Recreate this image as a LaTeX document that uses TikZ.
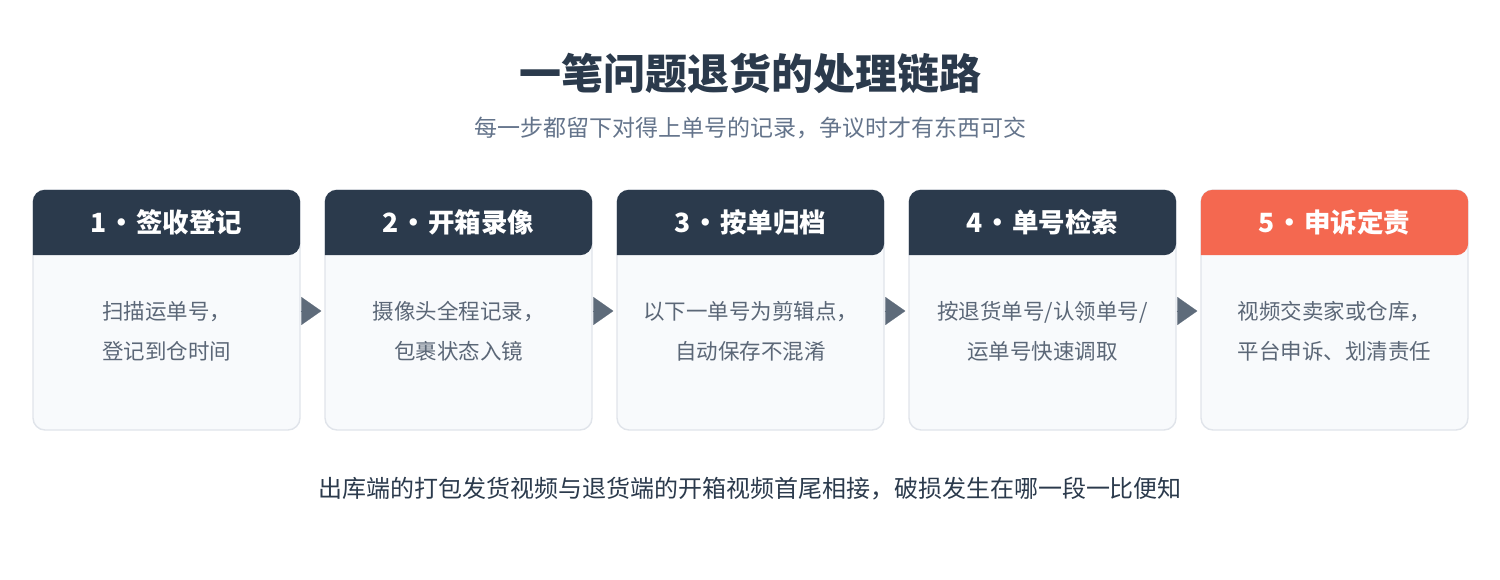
\documentclass[tikz,border=0pt]{standalone}
\usepackage{fontspec}
\setmainfont{Noto Sans CJK SC}
\usepackage{tikz}
\usetikzlibrary{arrows.meta, positioning, calc}
\definecolor{headdark}{HTML}{2B3A4C}
\definecolor{accentred}{HTML}{F46850}
\definecolor{cardfill}{HTML}{F8FAFC}
\definecolor{cardline}{HTML}{E0E4EA}
\definecolor{subgray}{HTML}{64748B}
\definecolor{bodygray}{HTML}{5B6777}
\definecolor{arrowgray}{HTML}{5E6B7A}
\newcommand{\dotsep}{\hspace{0.05em}•\hspace{0.05em}}

\begin{document}
\begin{tikzpicture}[
    x=1pt, y=-1pt,
    card/.style={
        draw=cardline,
        fill=cardfill,
        line width=1.4pt,
        rounded corners=12pt,
        minimum width=267pt,
        minimum height=240pt
    },
    head/.style={
        minimum width=267pt,
        minimum height=65pt,
        text=white,
        font=\fontsize{26.5}{30}\selectfont\bfseries
    },
    bodytext/.style={
        align=center,
        text=bodygray,
        font=\fontsize{21.5}{40}\selectfont
    },
    flow/.style={
        -{Triangle[length=20pt, width=28pt]},
        line width=0.1pt,
        color=arrowgray,
        shorten >=3pt
    }
]
\useasboundingbox (0,0) rectangle (1500,580);

% Title
\node[font=\fontsize{42}{48}\selectfont\bfseries, text=headdark] (title) at (750,73) {一笔问题退货的处理链路};
\node[font=\fontsize{23}{28}\selectfont, text=subgray] (subtitle) at (750,128) {每一步都留下对得上单号的记录，争议时才有东西可交};

% Cards
\node[card] (c1) at (166.5,310) {};
\node[card] (c2) at (458.5,310) {};
\node[card] (c3) at (750.5,310) {};
\node[card] (c4) at (1042.5,310) {};
\node[card] (c5) at (1334.5,310) {};

% Headers
\node[head] (h1) at (166.5,222.5) {};
\node[head] (h2) at (458.5,222.5) {};
\node[head] (h3) at (750.5,222.5) {};
\node[head] (h4) at (1042.5,222.5) {};
\node[head] (h5) at (1334.5,222.5) {};

\fill[headdark] (h1.south west) [rounded corners=12pt] |- (h1.north east) -- (h1.south east) [sharp corners] -- cycle;
\fill[headdark] (h2.south west) [rounded corners=12pt] |- (h2.north east) -- (h2.south east) [sharp corners] -- cycle;
\fill[headdark] (h3.south west) [rounded corners=12pt] |- (h3.north east) -- (h3.south east) [sharp corners] -- cycle;
\fill[headdark] (h4.south west) [rounded corners=12pt] |- (h4.north east) -- (h4.south east) [sharp corners] -- cycle;
\fill[accentred] (h5.south west) [rounded corners=12pt] |- (h5.north east) -- (h5.south east) [sharp corners] -- cycle;

\node[head] at (h1) {1\dotsep 签收登记};
\node[head] at (h2) {2\dotsep 开箱录像};
\node[head] at (h3) {3\dotsep 按单归档};
\node[head] at (h4) {4\dotsep 单号检索};
\node[head] at (h5) {5\dotsep 申诉定责};

% Body text
\node[bodytext] (t1) at (166.5,331) {扫描运单号，\\登记到仓时间};
\node[bodytext] (t2) at (458.5,331) {摄像头全程记录，\\包裹状态入镜};
\node[bodytext] (t3) at (750.5,331) {以下一单号为剪辑点，\\自动保存不混淆};
\node[bodytext] (t4) at (1042.5,331) {按退货单号/认领单号/\\运单号快速调取};
\node[bodytext] (t5) at (1334.5,331) {视频交卖家或仓库，\\平台申诉、划清责任};

% Arrows
\draw[flow] ($(c1.east)+(0,1)$) -- ($(c2.west)+(0,1)$);
\draw[flow] ($(c2.east)+(0,1)$) -- ($(c3.west)+(0,1)$);
\draw[flow] ($(c3.east)+(0,1)$) -- ($(c4.west)+(0,1)$);
\draw[flow] ($(c4.east)+(0,1)$) -- ($(c5.west)+(0,1)$);

% Footer
\node[font=\fontsize{24}{28}\selectfont, text=headdark] (footer) at (750,489) {出库端的打包发货视频与退货端的开箱视频首尾相接，破损发生在哪一段一比便知};

\end{tikzpicture}
\end{document}
